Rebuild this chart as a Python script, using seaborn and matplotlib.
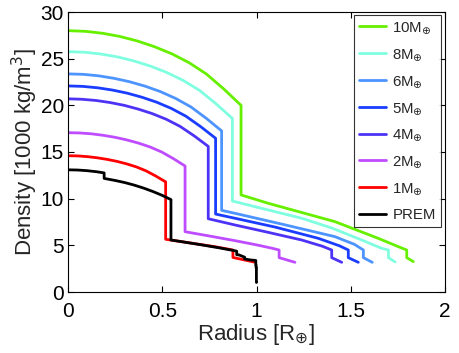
import seaborn as sns
import matplotlib.pyplot as plt
import pandas as pd

# radius in Earth radii, density in 1000 kg/m^3
r_10 = [0, 0.092, 0.184, 0.275, 0.367, 0.459, 0.551, 0.643, 0.734, 0.826, 0.918,
        0.918, 1.063, 1.25, 1.416, 1.53, 1.646, 1.752, 1.797, 1.797, 1.832]
rho_10 = [28.0, 27.93, 27.72, 27.38, 26.9, 26.28, 25.52, 24.56, 23.36, 21.76, 20.0,
          10.4, 9.5, 8.46, 7.54, 6.65, 5.75, 4.86, 4.5, 3.68, 3.25]

r_8 = [0, 0.087, 0.174, 0.262, 0.349, 0.436, 0.523, 0.61, 0.698, 0.785, 0.872,
       0.872, 1.04, 1.24, 1.40, 1.558, 1.664, 1.70, 1.70, 1.735]
rho_8 = [25.75, 25.69, 25.5, 25.19, 24.76, 24.21, 23.53, 22.68, 21.6, 20.17, 18.6,
         9.75, 8.9, 7.9, 6.85, 5.57, 4.68, 4.5, 3.68, 3.22]

r_6 = [0, 0.082, 0.163, 0.245, 0.326, 0.408, 0.489, 0.571, 0.652, 0.734, 0.815,
       0.815, 0.886, 1.15, 1.416, 1.52, 1.567, 1.567, 1.614]
rho_6 = [23.37, 23.32, 23.16, 22.89, 22.53, 22.06, 21.48, 20.74, 19.83, 18.6, 17.26,
         8.75, 8.43, 7.2, 5.93, 5.1, 4.5, 3.68, 3.18]

r_5 = [0, 0.078, 0.157, 0.235, 0.313, 0.392, 0.47, 0.548, 0.626, 0.705, 0.783,
       0.783, 0.886, 1.10, 1.328, 1.44, 1.487, 1.487, 1.54]
rho_5 = [22.08, 22.03, 21.88, 21.64, 21.31, 20.87, 20.34, 19.67, 18.83, 17.7, 16.47,
         8.35, 7.9, 6.95, 5.75, 4.95, 4.5, 3.68, 3.18]

r_4 = [0, 0.074, 0.149, 0.223, 0.298, 0.372, 0.446, 0.521, 0.595, 0.67, 0.744,
       0.744, 0.886, 1.06, 1.24, 1.35, 1.399, 1.399, 1.452]
rho_4 = [20.7, 20.65, 20.52, 20.3, 20.0, 19.6, 19.12, 18.51, 17.74, 16.72, 15.6,
         7.85, 7.18, 6.4, 5.57, 4.9, 4.5, 3.68, 3.18]

r_2 = [0, 0.062, 0.124, 0.186, 0.248, 0.311, 0.373, 0.435, 0.497, 0.559, 0.621,
       0.621, 0.75, 0.886, 1.0, 1.08, 1.12, 1.12, 1.204]
rho_2 = [17.07, 17.04, 16.95, 16.79, 16.58, 16.3, 15.96, 15.54, 15.0, 14.29, 13.5,
         6.46, 6.0, 5.5, 5.05, 4.7, 4.5, 3.68, 3.18]

r_1 = [0, 0.052, 0.104, 0.155, 0.207, 0.259, 0.311, 0.363, 0.414, 0.466, 0.518,
       0.518, 0.65, 0.78, 0.875, 0.875, 0.99]
rho_1 = [14.6, 14.58, 14.5, 14.38, 14.21, 14.0, 13.73, 13.4, 12.98, 12.42, 11.8,
         5.65, 5.25, 4.85, 4.5, 3.7, 3.2]

r_prem = [0, 0.05, 0.1, 0.15, 0.1917, 0.1917, 0.25, 0.3, 0.35, 0.4, 0.45, 0.5, 0.5462, 0.5462, 0.6, 0.7, 0.8,
          0.879, 0.895, 0.895, 0.906, 0.937, 0.937, 0.9655, 0.9962, 0.9962, 0.9977, 0.9977, 0.9995, 0.9995, 1.0]
rho_prem = [13.09, 13.07, 13.0, 12.89, 12.76, 12.17, 11.95, 11.73, 11.46, 11.14, 10.77, 10.35, 9.9, 5.57, 5.4, 5.08, 4.74,
            4.44, 4.38, 3.99, 3.98, 3.73, 3.54, 3.44, 3.38, 2.9, 2.9, 2.6, 2.6, 1.02, 1.02]

labels = ["10M$_{\\oplus}$", "8M$_{\\oplus}$", "6M$_{\\oplus}$", "5M$_{\\oplus}$",
          "4M$_{\\oplus}$", "2M$_{\\oplus}$", "1M$_{\\oplus}$", "PREM"]
colors = ["#66F000", "#80FFE0", "#4D94FF", "#1A3DFF", "#4D33F5", "#BF4DFF", "#FF0000", "#000000"]
radii = [r_10, r_8, r_6, r_5, r_4, r_2, r_1, r_prem]
dens = [rho_10, rho_8, rho_6, rho_5, rho_4, rho_2, rho_1, rho_prem]

frames = []
for lab, r, d in zip(labels, radii, dens):
    frames.append(pd.DataFrame({"Radius": r, "Density": d, "Model": lab}))
df = pd.concat(frames, ignore_index=True)

sns.set_style("ticks")
plt.rcParams['font.family'] = ['Liberation Sans', 'DejaVu Sans']

fig = plt.figure(figsize=(4.6, 3.53), dpi=100)
ax = fig.add_axes([68/460, 1 - 292/353, 377/460, 280/353])

sns.lineplot(data=df, x="Radius", y="Density", hue="Model", palette=colors,
             sort=False, estimator=None, linewidth=2, ax=ax)

ax.set_xlim(0, 2)
ax.set_ylim(0, 30)
ax.set_xticks([0, 0.5, 1, 1.5, 2])
ax.set_xticklabels(["0", "0.5", "1", "1.5", "2"])
ax.set_yticks([0, 5, 10, 15, 20, 25, 30])
ax.tick_params(direction="in", length=4, width=0.8, top=True, right=True,
               labelsize=15, colors="black", pad=3)
ax.tick_params(axis="x", pad=7)
for s in ax.spines.values():
    s.set_linewidth(0.8)
    s.set_color("black")

ax.set_xlabel("Radius [R$_{\\oplus}$]", fontsize=16, labelpad=1)
ax.set_ylabel("Density [1000 kg/m$^3$]", fontsize=16, labelpad=0)

leg = ax.legend(loc="upper right", bbox_to_anchor=(373/377, 277/280), borderaxespad=0,
                fontsize=10.8, handlelength=1.75, handletextpad=0.45, labelspacing=0.72,
                borderpad=0.35, frameon=True, fancybox=False, edgecolor="black")
leg.get_frame().set_linewidth(0.8)

fig.savefig("out.png", dpi=100)
plt.close(fig)
